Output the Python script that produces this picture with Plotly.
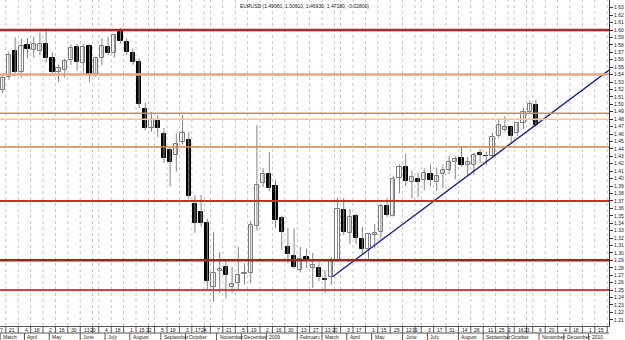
import plotly.graph_objects as go

# ---------------- data ----------------
weeks = list(range(87))  # weekly candles, week of 3 Mar 2008 .. week of 26 Oct 2009
opens = [1.519, 1.537, 1.572, 1.543, 1.580, 1.5735, 1.572, 1.581, 1.562, 1.5435,
         1.546, 1.559, 1.577, 1.5555, 1.578, 1.541, 1.562, 1.577, 1.569, 1.597,
         1.584, 1.569, 1.557, 1.4935, 1.468, 1.4775, 1.460, 1.4385, 1.432, 1.4493,
         1.452, 1.366, 1.355, 1.340, 1.254, 1.276, 1.281, 1.254, 1.259, 1.271,
         1.273, 1.336, 1.394, 1.406, 1.390, 1.347, 1.308, 1.296, 1.277, 1.2945,
         1.280, 1.280, 1.2655, 1.2676, 1.290, 1.358, 1.327, 1.349, 1.3187, 1.305,
         1.324, 1.328, 1.363, 1.350, 1.401, 1.4156, 1.3955, 1.3995, 1.398, 1.406,
         1.396, 1.406, 1.411, 1.422, 1.428, 1.418, 1.418, 1.4345, 1.4305, 1.430,
         1.457, 1.466, 1.4695, 1.461, 1.475, 1.4896, 1.4996]
highs = [1.540, 1.571, 1.590, 1.588, 1.589, 1.591, 1.597, 1.6019, 1.570, 1.5535,
         1.561, 1.580, 1.581, 1.581, 1.581, 1.564, 1.589, 1.591, 1.594, 1.6026,
         1.589, 1.575, 1.562, 1.502, 1.4896, 1.486, 1.468, 1.441, 1.461, 1.4856,
         1.463, 1.378, 1.378, 1.346, 1.328, 1.301, 1.292, 1.281, 1.308, 1.286,
         1.343, 1.472, 1.414, 1.436, 1.398, 1.350, 1.3335, 1.333, 1.308, 1.306,
         1.300, 1.287, 1.277, 1.2945, 1.374, 1.374, 1.359, 1.353, 1.335, 1.327,
         1.339, 1.366, 1.374, 1.404, 1.419, 1.434, 1.411, 1.408, 1.414, 1.419,
         1.415, 1.419, 1.431, 1.430, 1.444, 1.429, 1.435, 1.440, 1.436, 1.462,
         1.4815, 1.484, 1.470, 1.476, 1.4955, 1.5049, 1.5061]
lows = [1.515, 1.533, 1.538, 1.536, 1.562, 1.563, 1.566, 1.556, 1.5395, 1.530,
        1.536, 1.553, 1.545, 1.540, 1.530, 1.537, 1.553, 1.566, 1.563, 1.582,
        1.566, 1.553, 1.495, 1.465, 1.463, 1.456, 1.421, 1.389, 1.409, 1.446,
        1.372, 1.327, 1.335, 1.250, 1.234, 1.246, 1.239, 1.246, 1.251, 1.257,
        1.259, 1.330, 1.389, 1.383, 1.333, 1.304, 1.286, 1.279, 1.274, 1.280,
        1.2528, 1.262, 1.246, 1.257, 1.288, 1.324, 1.312, 1.312, 1.298, 1.290,
        1.306, 1.318, 1.348, 1.349, 1.380, 1.390, 1.373, 1.375, 1.384, 1.390,
        1.383, 1.388, 1.406, 1.399, 1.416, 1.404, 1.405, 1.421, 1.418, 1.428,
        1.455, 1.463, 1.448, 1.457, 1.467, 1.4865, 1.4693]
closes = [1.535, 1.567, 1.544, 1.579, 1.5745, 1.581, 1.581, 1.562, 1.5435, 1.549,
          1.558, 1.576, 1.557, 1.577, 1.5395, 1.562, 1.578, 1.569, 1.593, 1.585,
          1.570, 1.557, 1.500, 1.468, 1.479, 1.468, 1.4277, 1.4223, 1.4466, 1.4613,
          1.3766, 1.340, 1.340, 1.262, 1.273, 1.278, 1.270, 1.258, 1.270, 1.273,
          1.3375, 1.392, 1.406, 1.387, 1.344, 1.328, 1.298, 1.281, 1.292, 1.291,
          1.2837, 1.2676, 1.264, 1.290, 1.359, 1.328, 1.348, 1.320, 1.305, 1.325,
          1.327, 1.363, 1.351, 1.400, 1.4156, 1.397, 1.402, 1.3955, 1.4075, 1.398,
          1.404, 1.412, 1.423, 1.426, 1.418, 1.4222, 1.432, 1.432, 1.430, 1.456,
          1.472, 1.4695, 1.457, 1.475, 1.4896, 1.500, 1.4718]

# support / resistance levels
levels = [1.60, 1.54, 1.488, 1.480, 1.4425, 1.37, 1.29, 1.25]
level_colors = ["#b3262a", "#e8a585", "#d48a4c", "#f2c2a2", "#cf8443", "#d42a2a", "#b31c1c", "#e0393e"]
level_widths = [2.5, 2.5, 1.5, 1.5, 1.5, 2, 2.5, 2]

# trend line (week index, price)
trend_x = [53.2, 97.8]
trend_y = [1.268, 1.546]

# x-axis labels: (week index, Friday day number)
day_idx = [0, 2, 4, 6, 8, 10, 12, 14, 15, 17, 19, 21, 23, 24, 26, 28, 30, 32, 33, 35, 37, 39,
           41, 43, 45, 47, 49, 51, 53, 54, 56, 58, 60, 62, 64, 66, 67, 69, 71, 73, 75, 77,
           79, 81, 82, 84, 85, 87, 89, 91, 93, 95, 97]
day_txt = ["7", "21", "4", "18", "2", "16", "30", "13", "20", "4", "18", "1", "15", "22", "5",
           "19", "3", "17", "24", "7", "21", "5", "19", "2", "16", "30", "13", "27", "13", "20",
           "3", "17", "1", "15", "29", "12", "19", "3", "17", "31", "14", "28", "11", "25", "2",
           "16", "23", "6", "20", "4", "18", "1", "15"]
month_idx = [0, 4, 8, 13, 17, 21, 26, 30, 35, 39, 43, 48, 52, 56, 60, 65, 69, 74, 78, 82, 87, 91, 95]
month_txt = ["March", "April", "May", "June", "July", "August", "September", "October",
             "November", "December", "2009", "February", "March", "April", "May", "June",
             "July", "August", "September", "October", "November", "December", "2010"]

title_txt = "EURUSD (1.49960, 1.50610, 1.46930, 1.47180, -0.02800)"
price_ticks = [round(1.20 + 0.01 * k, 2) for k in range(44)]

# ---------------- figure ----------------
X0, X1 = -0.44, 97.79
Y0, Y1 = 1.2016, 1.6404
PLOT_H = 340 - 14

fig = go.Figure()

# wicks
wx, wy = [], []
for i, h, l in zip(weeks, highs, lows):
    wx += [i, i, None]
    wy += [l, h, None]
fig.add_trace(go.Scatter(x=wx, y=wy, mode="lines", line=dict(color="#858585", width=1),
                         hoverinfo="skip", showlegend=False))

MINB = 0.0009
up_x, up_b, up_h, dn_x, dn_b, dn_h = [], [], [], [], [], []
for i, o, c in zip(weeks, opens, closes):
    b = min(o, c)
    h = max(abs(c - o), MINB)
    if c >= o:
        up_x.append(i); up_b.append(b); up_h.append(h)
    else:
        dn_x.append(i); dn_b.append(b); dn_h.append(h)

fig.add_trace(go.Bar(x=up_x, y=up_h, base=up_b, width=0.7,
                     marker=dict(color="white", line=dict(color="#7a7a7a", width=1)),
                     showlegend=False))
fig.add_trace(go.Bar(x=dn_x, y=dn_h, base=dn_b, width=0.7,
                     marker=dict(color="black", line=dict(color="black", width=1)),
                     showlegend=False))

fig.add_trace(go.Scatter(x=trend_x, y=trend_y, mode="lines",
                         line=dict(color="#1c1c9c", width=1.3), showlegend=False))

shapes = []
# vertical dotted grid at label ticks
for i in day_idx:
    shapes.append(dict(type="line", xref="x", yref="paper", x0=i + 0.5, x1=i + 0.5, y0=0, y1=1,
                       line=dict(color="#c4c4c4", width=1, dash="dot"), layer="below"))
# horizontal levels
for lv, col, w in zip(levels, level_colors, level_widths):
    shapes.append(dict(type="line", xref="paper", yref="y", x0=0, x1=1, y0=lv, y1=lv,
                       line=dict(color=col, width=w), layer="above"))

# bottom date axis boxes
r1 = -7 / PLOT_H
r2 = -14 / PLOT_H
shapes.append(dict(type="line", xref="paper", yref="paper", x0=0, x1=1, y0=r1, y1=r1,
                   line=dict(color="#555555", width=1)))
for i in day_idx:
    shapes.append(dict(type="line", xref="x", yref="paper", x0=i + 0.5, x1=i + 0.5, y0=0, y1=r1,
                       line=dict(color="#555555", width=1)))
for i in month_idx:
    xm = max(i - 0.5, X0 + 0.02)
    shapes.append(dict(type="line", xref="x", yref="paper", x0=xm, x1=xm, y0=r1, y1=r2,
                       line=dict(color="#555555", width=1)))

annotations = []
for i, t in zip(day_idx, day_txt):
    annotations.append(dict(x=i + 0.5, y=r1 / 2, xref="x", yref="paper", text=t, showarrow=False,
                            xanchor="right", yanchor="middle", xshift=-1,
                            font=dict(size=5, color="#222222", family="Liberation Sans")))
for i, t in zip(month_idx, month_txt):
    xm = max(i - 0.5, X0 + 0.02)
    annotations.append(dict(x=xm, y=(r1 + r2) / 2, xref="x", yref="paper", text=t, showarrow=False,
                            xanchor="left", yanchor="middle", xshift=1,
                            font=dict(size=5, color="#222222", family="Liberation Sans")))
annotations.append(dict(x=0.5, y=1, xref="paper", yref="paper", text=title_txt, showarrow=False,
                        xanchor="center", yanchor="top", yshift=-1,
                        font=dict(size=5, color="#222222", family="Liberation Sans")))

fig.update_layout(
    width=625, height=340,
    margin=dict(l=0, r=16, t=0, b=14),
    paper_bgcolor="white", plot_bgcolor="white",
    barmode="overlay", bargap=0,
    shapes=shapes, annotations=annotations,
    showlegend=False,
    xaxis=dict(range=[X0, X1], showticklabels=False, ticks="", showgrid=False, zeroline=False,
               showline=True, linecolor="#555555", linewidth=1, fixedrange=True),
    yaxis=dict(range=[Y0, Y1], side="right", tickvals=price_ticks,
               ticktext=[f"{v:.2f}" for v in price_ticks], ticks="outside", ticklen=3,
               tickcolor="#333333", tickfont=dict(size=5, color="#222222", family="Liberation Sans"),
               showgrid=False, zeroline=False, showline=True, linecolor="#333333", linewidth=1,
               fixedrange=True),
)

fig.write_html("out.html")
